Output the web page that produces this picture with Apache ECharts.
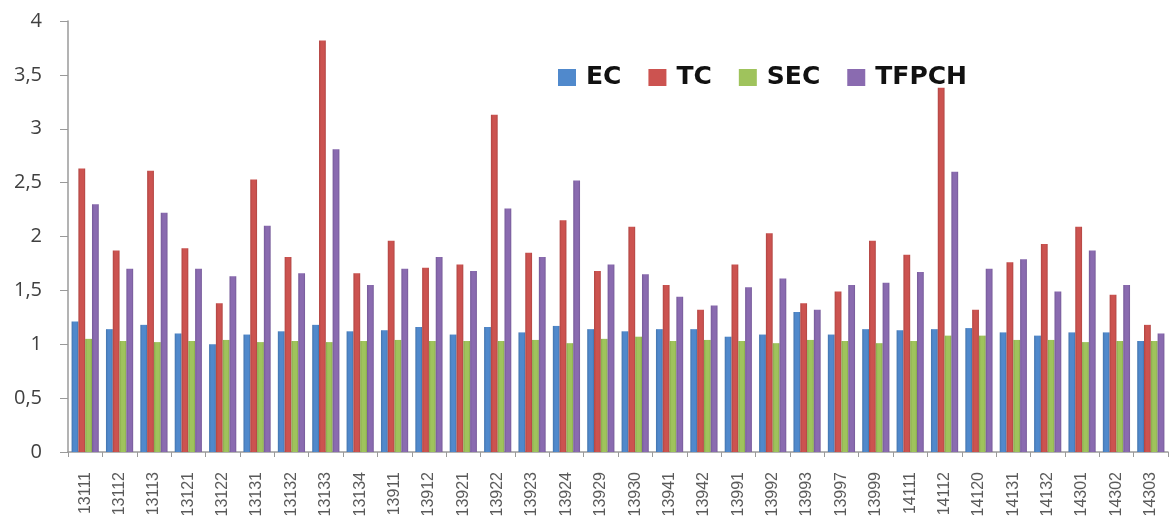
<!DOCTYPE html>
<html>
<head>
<meta charset="utf-8">
<script src="https://cdn.jsdelivr.net/npm/echarts@6/dist/echarts.min.js"></script>
<style>
  html, body { margin: 0; padding: 0; background: #fff; }
  #chart { width: 1172px; height: 525px; }
</style>
</head>
<body>
<div id="chart"></div>
<script>
// Region codes along the horizontal axis
const categories = [
  '13111', '13112', '13113', '13121', '13122', '13131', '13132', '13133',
  '13134', '13911', '13912', '13921', '13922', '13923', '13924', '13929',
  '13930', '13941', '13942', '13991', '13992', '13993', '13997', '13999',
  '14111', '14112', '14120', '14131', '14132', '14301', '14302', '14303'
];

// Index values per region
const EC = [
  1.21, 1.14, 1.18, 1.10, 1.00, 1.09, 1.12, 1.18,
  1.12, 1.13, 1.16, 1.09, 1.16, 1.11, 1.17, 1.14,
  1.12, 1.14, 1.14, 1.07, 1.09, 1.30, 1.09, 1.14,
  1.13, 1.14, 1.15, 1.11, 1.08, 1.11, 1.11, 1.03
];
const TC = [
  2.63, 1.87, 2.61, 1.89, 1.38, 2.53, 1.81, 3.82,
  1.66, 1.96, 1.71, 1.74, 3.13, 1.85, 2.15, 1.68,
  2.09, 1.55, 1.32, 1.74, 2.03, 1.38, 1.49, 1.96,
  1.83, 3.38, 1.32, 1.76, 1.93, 2.09, 1.46, 1.18
];
const SEC = [
  1.05, 1.03, 1.02, 1.03, 1.04, 1.02, 1.03, 1.02,
  1.03, 1.04, 1.03, 1.03, 1.03, 1.04, 1.01, 1.05,
  1.07, 1.03, 1.04, 1.03, 1.01, 1.04, 1.03, 1.01,
  1.03, 1.08, 1.08, 1.04, 1.04, 1.02, 1.03, 1.03
];
const TFPCH = [
  2.30, 1.70, 2.22, 1.70, 1.63, 2.10, 1.66, 2.81,
  1.55, 1.70, 1.81, 1.68, 2.26, 1.81, 2.52, 1.74,
  1.65, 1.44, 1.36, 1.53, 1.61, 1.32, 1.55, 1.57,
  1.67, 2.60, 1.70, 1.79, 1.49, 1.87, 1.55, 1.10
];

const seriesDefs = [
  { name: 'EC', data: EC, color: '#5089cc', edge: '#4474ad' },
  { name: 'TC', data: TC, color: '#cc5350', edge: '#b04542' },
  { name: 'SEC', data: SEC, color: '#9fc35c', edge: '#88a94c' },
  { name: 'TFPCH', data: TFPCH, color: '#8a6bb0', edge: '#755a98' }
];

const chart = echarts.init(document.getElementById('chart'), null, { renderer: 'canvas' });

chart.setOption({
  backgroundColor: '#ffffff',
  animation: false,
  legend: {
    left: 553,
    top: 60,
    itemWidth: 18,
    itemHeight: 17,
    itemGap: 27,
    icon: 'rect',
    textStyle: {
      fontFamily: 'DejaVu Sans, sans-serif',
      fontWeight: 'bold',
      fontSize: 25,
      color: '#111111',
      padding: [0, 0, 0, 5]
    },
    data: seriesDefs.map(s => ({ name: s.name, itemStyle: { color: s.color } }))
  },
  grid: { left: 68, right: 4, top: 21, bottom: 73, containLabel: false },
  xAxis: {
    type: 'category',
    data: categories,
    axisLine: { show: true, lineStyle: { color: '#9a9a9a', width: 1.5 } },
    axisTick: { show: true, alignWithLabel: false, length: 5, lineStyle: { color: '#9a9a9a' } },
    axisLabel: {
      rotate: 90,
      interval: 0,
      margin: 20,
      fontFamily: 'Liberation Sans, Arial, sans-serif',
      fontSize: 16,
      color: '#5a5a5a'
    },
    splitLine: { show: false }
  },
  yAxis: {
    type: 'value',
    min: 0,
    max: 4,
    interval: 0.5,
    axisLine: { show: true, lineStyle: { color: '#9a9a9a', width: 1.5 } },
    axisTick: { show: true, length: 8, lineStyle: { color: '#9a9a9a' } },
    axisLabel: {
      margin: 26,
      fontFamily: 'Open Sans, Liberation Sans, sans-serif',
      fontSize: 20,
      color: '#404040',
      formatter: v => String(v).replace('.', ',')
    },
    splitLine: { show: false }
  },
  series: seriesDefs.map(s => ({
    name: s.name,
    type: 'bar',
    data: s.data,
    barWidth: 6.8,
    barGap: '0%',
    barCategoryGap: '20%',
    itemStyle: {
      color: new echarts.graphic.LinearGradient(0, 0, 1, 0, [
        { offset: 0, color: s.edge },
        { offset: 0.3, color: s.color },
        { offset: 0.75, color: s.color },
        { offset: 1, color: s.edge }
      ]),
      borderWidth: 0
    },
    emphasis: { disabled: true }
  }))
});
</script>
</body>
</html>
